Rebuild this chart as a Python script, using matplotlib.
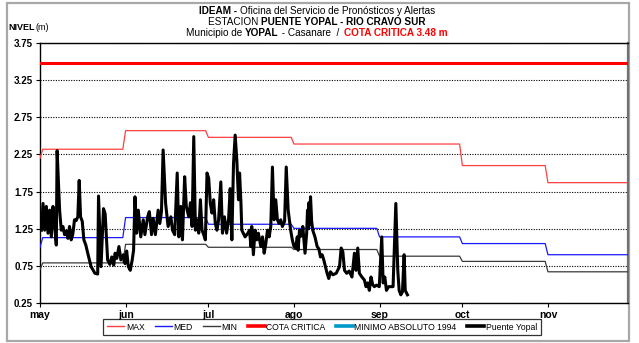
import matplotlib
matplotlib.use("Agg")
import matplotlib.pyplot as plt
import matplotlib.dates as mdates
import numpy as np
import pandas as pd
from matplotlib.lines import Line2D
from matplotlib.patches import Rectangle

plt.rcParams["font.family"] = ["Liberation Sans", "DejaVu Sans"]

# ---------------------------------------------------------------- data
season_start = pd.Timestamp("2010-05-01")
season_end = pd.Timestamp("2010-11-30")

month_labels = ["may", "jun", "jul", "ago", "sep", "oct", "nov"]
month_starts = ["2010-05-01", "2010-06-01", "2010-07-01", "2010-08-01",
                "2010-09-01", "2010-10-01", "2010-11-01"]

y_ticks = [0.25, 0.75, 1.25, 1.75, 2.25, 2.75, 3.25, 3.75]

# historical monthly levels (m), May..Nov, plus the first-day value
max_first, med_first, min_first = 2.20, 1.00, 0.70
max_monthly = [2.32, 2.57, 2.48, 2.39, 2.39, 2.10, 1.87]
med_monthly = [1.13, 1.40, 1.31, 1.255, 1.14, 1.05, 0.90]
min_monthly = [0.79, 1.04, 1.00, 0.97, 0.88, 0.81, 0.67]
cota_critica = 3.48

# Puente Yopal readings: days after May 1 and level (m)
obs_day = [
    0.5, 1.1, 1.7, 2.3, 2.9, 3.5, 4.1, 4.7, 5.3, 5.9, 6.2, 7.1, 7.7, 8.3,
    8.9, 9.5, 10.1, 10.7, 11.3, 11.9, 12.5, 13.1, 13.7, 14.2, 14.7, 15.3,
    15.9, 16.6, 17.3, 18.5, 19.9, 20.9, 21.2, 22.1, 23.0, 23.6, 24.5, 25.3,
    26.0, 26.7, 27.2, 27.8, 28.6, 29.3, 30.2, 30.8, 31.4, 32.0, 32.7, 33.4,
    33.9, 34.4, 35.0, 35.6, 36.5, 37.4, 38.0, 39.0, 39.6, 40.4, 41.0, 41.8,
    42.8, 43.4, 44.0, 44.6, 45.5, 46.4, 47.4, 48.0, 48.8, 49.7, 50.3, 51.0,
    51.6, 52.4, 53.0, 53.9, 54.5, 55.1, 55.7, 56.3, 56.9, 57.5, 58.1, 58.7,
    59.3, 59.9, 60.5, 61.1, 61.7, 62.3, 62.9, 63.5, 64.1, 64.7, 65.5, 66.1,
    66.8, 67.6, 68.3, 68.9, 69.5, 70.1, 70.7, 71.3, 71.9, 72.3, 72.8, 73.1,
    74.3, 75.3, 75.9, 76.4, 76.7, 77.3, 77.9, 78.5, 79.1, 80.0, 80.6, 81.2,
    81.8, 82.4, 83.0, 83.6, 84.2, 84.8, 85.4, 86.0, 86.6, 87.2, 87.8, 88.6,
    89.2, 89.9, 90.8, 91.4, 92.0, 92.6, 93.2, 93.5, 94.0, 94.6, 95.2, 96.0,
    96.6, 96.9, 97.2, 97.4, 97.7, 98.0, 98.4, 98.8, 99.6, 100.4, 101.0,
    101.6, 102.2, 102.8, 103.4, 104.0, 104.6, 105.2, 106.1, 107.3, 108.5,
    109.1, 109.7, 110.3, 111.1, 112.0, 113.0, 113.9, 114.5, 115.1, 115.7,
    116.6, 117.5, 118.1, 118.7, 119.3, 119.9, 120.5, 121.1, 121.9, 122.9,
    123.8, 124.3, 124.9, 125.5, 126.3, 127.1, 127.9, 128.9, 129.6, 130.1,
    130.7, 131.3, 131.9, 132.3, 133.1,
]
obs_level = [
    1.23, 1.59, 1.23, 1.55, 1.19, 1.50, 1.14, 1.55, 1.30, 1.03, 2.30, 1.50,
    1.23, 1.28, 1.17, 1.22, 1.12, 1.28, 1.10, 1.18, 1.37, 1.36, 1.41, 1.90,
    1.41, 1.35, 1.10, 1.03, 0.92, 0.74, 0.65, 0.64, 1.69, 0.74, 1.52, 1.45,
    0.83, 0.77, 0.87, 0.76, 0.92, 0.85, 1.01, 0.83, 0.90, 0.78, 0.95, 0.74,
    0.69, 0.83, 0.96, 1.68, 1.19, 1.50, 1.14, 1.37, 1.17, 1.41, 1.48, 1.17,
    1.39, 1.17, 1.50, 1.32, 1.48, 2.31, 1.59, 1.28, 1.41, 1.23, 1.17, 2.00,
    1.14, 1.55, 1.10, 1.95, 1.55, 1.41, 1.60, 1.28, 2.49, 1.23, 1.37, 1.19,
    1.64, 1.23, 1.17, 1.10, 2.00, 1.93, 1.59, 1.46, 1.64, 1.32, 1.23, 1.37,
    1.88, 1.19, 1.41, 1.19, 1.37, 1.79, 1.10, 2.13, 2.51, 2.17, 1.64, 2.00,
    1.59, 1.23, 1.14, 1.19, 1.23, 1.01, 1.28, 0.90, 1.23, 1.10, 1.19, 1.01,
    1.14, 0.92, 1.05, 1.23, 1.14, 1.28, 2.08, 1.37, 1.64, 1.37, 1.32, 1.37,
    1.28, 1.35, 2.08, 1.50, 1.23, 1.10, 1.01, 0.99, 1.14, 0.96, 1.23, 1.15,
    1.28, 0.92, 1.19, 1.50, 1.25, 1.60, 1.30, 1.68, 1.35, 1.23, 1.14, 1.01,
    0.98, 0.87, 0.90, 0.83, 0.74, 0.65, 0.58, 0.67, 0.63, 0.65, 0.74, 0.99,
    0.94, 0.69, 0.65, 0.68, 0.60, 0.92, 0.69, 0.99, 0.65, 0.60, 0.56, 0.47,
    0.52, 0.42, 0.60, 0.50, 0.47, 0.49, 0.47, 1.14, 0.52, 0.60, 0.42, 0.47,
    0.47, 0.47, 1.59, 0.69, 0.42, 0.36, 0.40, 0.90, 0.42, 0.36,
]

# ---------------------------------------------------------------- series
days = pd.date_range(season_start, season_end, freq="D")
month_idx = np.asarray(days.month) - 5


def daily(monthly, first):
    vals = np.asarray(monthly, dtype=float)[month_idx]
    vals[0] = first
    return vals


max_daily = daily(max_monthly, max_first)
med_daily = daily(med_monthly, med_first)
min_daily = daily(min_monthly, min_first)
obs_time = season_start + pd.to_timedelta(obs_day, unit="D")

# ---------------------------------------------------------------- figure
W, H = 639, 343
fig = plt.figure(figsize=(W / 100, H / 100), dpi=100)
ax = fig.add_axes([40 / W, 1 - 303 / H, (628 - 40) / W, (303 - 43) / H])

c_max, c_med, c_min = "#ff4040", "#1a1aff", "#3a3a3a"
c_cota, c_minabs, c_obs = "#ff0000", "#0099cc", "#000000"

ax.plot(days, max_daily, color=c_max, lw=0.9, zorder=3)
ax.plot(days, med_daily, color=c_med, lw=0.9, zorder=3)
ax.plot(days, min_daily, color=c_min, lw=0.9, zorder=3)
ax.plot([season_start, season_end], [cota_critica, cota_critica],
        color=c_cota, lw=2.2, zorder=3)
ax.plot(obs_time, obs_level, color=c_obs, lw=2.2, zorder=4,
        solid_joinstyle="round")

ax.set_xlim(season_start, season_end)
ax.set_ylim(y_ticks[0], y_ticks[-1])
ax.set_yticks(y_ticks)
ax.set_yticklabels([f"{v:.2f}" for v in y_ticks], fontsize=7,
                   fontweight="bold")
ax.set_xticks([pd.Timestamp(m) for m in month_starts])
ax.set_xticklabels(month_labels, fontsize=7.5, fontweight="bold")
ax.tick_params(axis="both", direction="out", length=3, width=0.8,
               color="black", pad=2)
ax.tick_params(axis="x", pad=2)
ax.yaxis.grid(True, color="black", lw=0.8, linestyle=(0, (1, 1.3)))
ax.set_axisbelow(True)
for side in ["left", "bottom", "top"]:
    ax.spines[side].set_linewidth(1.0)
    ax.spines[side].set_color("black")
ax.spines["right"].set_linewidth(1.6)
ax.spines["right"].set_color("#707070")

# outer frame
fig.add_artist(Rectangle((7 / W, 1 - 341 / H), (629 - 7) / W, (341 - 3) / H,
                         transform=fig.transFigure, fill=False,
                         edgecolor="#a8a8a8", lw=1.6, zorder=0))

# y-axis caption
fig.text(8 / W, 1 - 27 / H, "NIVEL", fontsize=6.5, fontweight="bold",
         va="center", ha="left")
fig.text(35 / W, 1 - 27 / H, "(m)", fontsize=6.5, va="center", ha="left")

# multi-style title lines
renderer = fig.canvas.get_renderer()


def styled_line(pieces, xc, y, size=7.2):
    texts = []
    for s, weight, color in pieces:
        t = fig.text(0, y, s, fontsize=size, fontweight=weight, color=color,
                     va="center", ha="left")
        texts.append(t)
    widths = [t.get_window_extent(renderer).width for t in texts]
    x = xc * W - sum(widths) / 2
    for t, w in zip(texts, widths):
        t.set_x(x / W)
        x += w


xc = 317 / W
styled_line([("IDEAM - ", "bold", "black"),
             ("Oficina del Servicio de Pronósticos y Alertas", "normal", "black")],
            xc, 1 - 11 / H)
styled_line([("ESTACION ", "normal", "black"),
             ("PUENTE YOPAL - RIO CRAVO SUR", "bold", "black")],
            xc, 1 - 22 / H)
styled_line([("Municipio de ", "normal", "black"),
             ("YOPAL", "bold", "black"),
             (" - Casanare  /  ", "normal", "black"),
             ("COTA CRITICA 3.48 m", "bold", "#ff0000")],
            xc, 1 - 33 / H)

# legend
handles = [
    Line2D([], [], color=c_max, lw=1.0),
    Line2D([], [], color=c_med, lw=1.0),
    Line2D([], [], color=c_min, lw=1.0),
    Line2D([], [], color=c_cota, lw=2.6),
    Line2D([], [], color=c_minabs, lw=2.6),
    Line2D([], [], color=c_obs, lw=2.6),
]
labels = ["MAX", "MED", "MIN", "COTA CRITICA", "MINIMO ABSOLUTO 1994",
          "Puente Yopal"]
leg = fig.legend(handles, labels, loc="center",
                 bbox_to_anchor=(322 / W, 1 - 327 / H), ncol=6,
                 fontsize=6.2, frameon=True, fancybox=False,
                 edgecolor="black", handlelength=2.0, handletextpad=0.15,
                 columnspacing=1.2, borderpad=0.45, borderaxespad=0)
leg.get_frame().set_linewidth(0.9)

fig.savefig("out.png", dpi=100)
